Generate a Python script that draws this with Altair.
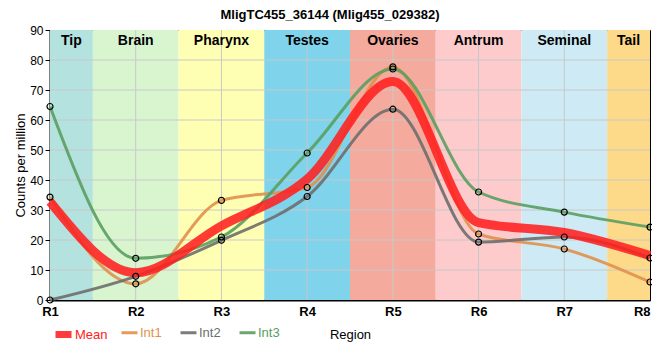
import altair as alt
import pandas as pd

# ---- data ----
regions = ["R1", "R2", "R3", "R4", "R5", "R6", "R7", "R8"]
region_pos = [1, 2, 3, 4, 5, 6, 7, 8]
mean_vals = [32.8, 9.1, 24.7, 40.3, 72.8, 25.8, 22.5, 14.8]
int1_vals = [34.3, 5.4, 33.2, 37.5, 77.7, 22.0, 17.0, 6.0]
int2_vals = [0.0, 7.9, 19.9, 34.5, 63.6, 19.3, 21.0, 14.0]
int3_vals = [64.5, 13.9, 21.0, 49.0, 77.0, 36.0, 29.3, 24.3]

series_names = ["Mean", "Int1", "Int2", "Int3"]
series_colors = ["#ff2020", "#e0904c", "#6e6e6e", "#5a9e60"]

band_names = ["Tip", "Brain", "Pharynx", "Testes", "Ovaries", "Antrum", "Seminal", "Tail"]
band_start = [1, 1.5, 2.5, 3.5, 4.5, 5.5, 6.5, 7.5]
band_end = [1.5, 2.5, 3.5, 4.5, 5.5, 6.5, 7.5, 8]
band_colors = ["#b4e2de", "#d9f5d0", "#ffffb4", "#7fd3eb", "#f4aa9c", "#fdcbcb", "#ceebf5", "#fdd98a"]

y_ticks = [0, 10, 20, 30, 40, 50, 60, 70, 80, 90]
y_grid = [10, 20, 30, 40, 50, 60, 70, 80]
x_grid = [2, 3, 4, 5, 6, 7]

# ---- tables ----
rows = []
for name, vals in zip(series_names, [mean_vals, int1_vals, int2_vals, int3_vals]):
    for r, p, v in zip(regions, region_pos, vals):
        rows.append({"series": name, "region": r, "pos": p, "value": v})
df = pd.DataFrame(rows)

bands = pd.DataFrame({"band": band_names, "start": band_start, "end": band_end, "fill": band_colors})
bands["mid"] = [(a + b) / 2 for a, b in zip(band_start, band_end)]

FONT = "Liberation Sans"

xscale = alt.Scale(domain=[1, 8], nice=False, zero=False)
yscale = alt.Scale(domain=[0, 90], nice=False)
mean_scale = alt.Scale(domain=series_names[:1], range=series_colors[:1])
int_scale = alt.Scale(domain=series_names[1:], range=series_colors[1:])

x_axis = alt.Axis(values=region_pos, labelExpr="'R' + datum.value", grid=False, ticks=False,
                  domainColor="black", domainWidth=2, labelFontWeight="bold", labelFontSize=13,
                  labelColor="black", labelFont=FONT, labelPadding=5, labelFlush=False,
                  labelAlign={"expr": "datum.value == 8 ? 'right' : 'center'"},
                  title="Region", titleFontWeight="normal", titleFontSize=13, titleFont=FONT,
                  titlePadding=10, titleColor="black")
y_axis = alt.Axis(values=y_ticks, grid=False, tickColor="black", tickSize=5, domainColor="black",
                  domainWidth=2, labelFontSize=12, labelColor="black", labelFont=FONT,
                  labelFlush=False,
                  title="Counts per million", titleFontWeight="normal", titleFontSize=13,
                  titleFont=FONT, titleColor="black", titlePadding=2)

band_layer = alt.Chart(bands).mark_rect().encode(
    x=alt.X("start:Q", scale=xscale, axis=x_axis),
    x2="end:Q",
    y=alt.Y(datum=0, scale=yscale, axis=y_axis),
    y2=alt.Y2(datum=90),
    fill=alt.Fill("fill:N", scale=None),
)

band_text = alt.Chart(bands).mark_text(fontWeight="bold", fontSize=14, font=FONT, color="black",
                                        baseline="middle").encode(
    x=alt.X("mid:Q", scale=xscale, axis=x_axis),
    y=alt.Y(datum=86.2, scale=yscale, axis=y_axis),
    text="band:N",
)

hgrid = alt.Chart(pd.DataFrame({"g": y_grid})).mark_rule(color="#c8c8c8", strokeWidth=1).encode(
    y=alt.Y("g:Q", scale=yscale, axis=y_axis),
)
vgrid = alt.Chart(pd.DataFrame({"g": x_grid})).mark_rule(color="#c8c8c8", strokeWidth=1).encode(
    x=alt.X("g:Q", scale=xscale, axis=x_axis),
)

int_color_expr = " : ".join(
    f"datum.value == '{n}' ? '{c}'" for n, c in zip(series_names[1:-1], series_colors[1:-1])
) + f" : '{series_colors[-1]}'"

mean_legend = alt.Legend(orient="none", legendX=-28, legendY=293, direction="horizontal", title=None,
                         symbolType="stroke", symbolSize=256, symbolStrokeWidth=7,
                         symbolOffset=30,
                         labelFontSize=13, labelFont=FONT, labelOffset=0,
                         labelColor=series_colors[0])
int_legend = alt.Legend(orient="none", legendX=70, legendY=293, direction="horizontal", title=None,
                        symbolType="stroke", symbolSize=256, symbolStrokeWidth=3,
                        labelFontSize=13, labelFont=FONT, labelOffset=1, columnPadding=12,
                        labelColor={"expr": int_color_expr})

mean_line = alt.Chart(df).transform_filter("datum.series == 'Mean'").mark_line(
    interpolate="monotone", strokeWidth=9, opacity=0.88).encode(
    x=alt.X("pos:Q", scale=xscale, axis=x_axis),
    y=alt.Y("value:Q", scale=yscale, axis=y_axis),
    color=alt.Color("series:N", scale=mean_scale, legend=mean_legend),
    order=alt.Order("pos:Q"),
)

int_lines = alt.Chart(df).transform_filter("datum.series != 'Mean'").mark_line(
    interpolate="monotone", strokeWidth=3, opacity=0.9).encode(
    x=alt.X("pos:Q", scale=xscale, axis=x_axis),
    y=alt.Y("value:Q", scale=yscale, axis=y_axis),
    color=alt.Color("series:N", scale=int_scale, legend=int_legend),
    order=alt.Order("pos:Q"),
)

points = alt.Chart(df).transform_filter("datum.series != 'Mean'").mark_point(
    filled=False, color="black", size=36, strokeWidth=1.2, opacity=1).encode(
    x=alt.X("pos:Q", scale=xscale, axis=x_axis),
    y=alt.Y("value:Q", scale=yscale, axis=y_axis),
)

chart = alt.layer(band_layer, hgrid, vgrid, band_text, int_lines, mean_line, points).resolve_scale(
    color="independent"
).properties(
    width=600, height=270,
    title=alt.TitleParams("MligTC455_36144 (Mlig455_029382)", fontSize=13, fontWeight="bold",
                          font=FONT, anchor="middle", dx=-20, offset=2, color="black"),
    autosize=alt.AutoSizeParams(type="none"),
    padding={"left": 42, "top": 22, "right": 2, "bottom": 50},
).configure_view(stroke="black", strokeWidth=1)

chart.save("out.html", embed_options={"renderer": "svg", "actions": False})
